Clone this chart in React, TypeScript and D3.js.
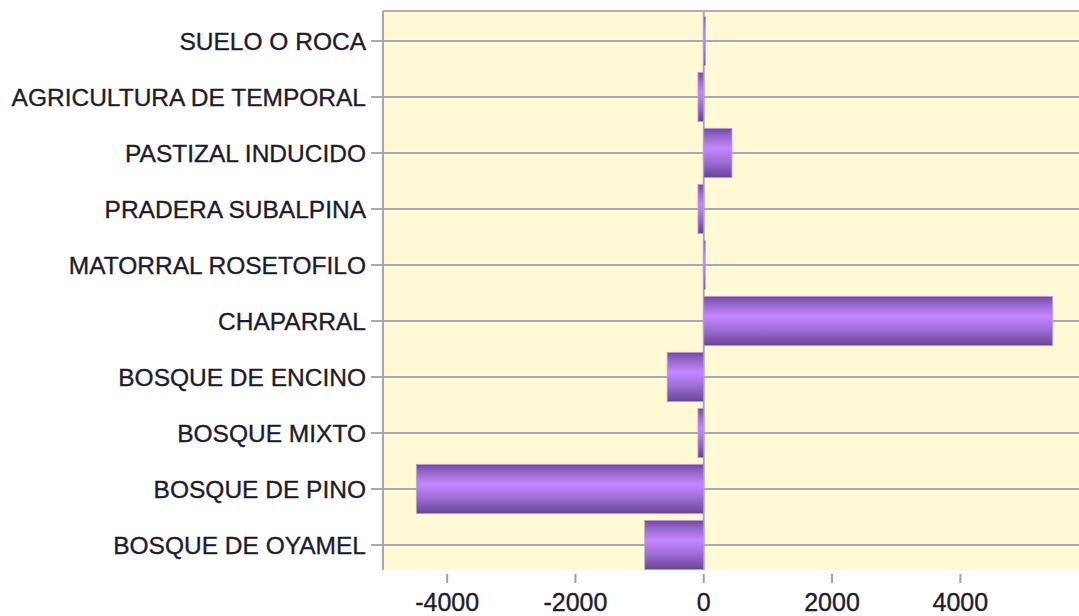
import React from 'react';
import * as d3 from 'd3';

const categories = [
  'SUELO O ROCA',
  'AGRICULTURA DE TEMPORAL',
  'PASTIZAL INDUCIDO',
  'PRADERA SUBALPINA',
  'MATORRAL ROSETOFILO',
  'CHAPARRAL',
  'BOSQUE DE ENCINO',
  'BOSQUE MIXTO',
  'BOSQUE DE PINO',
  'BOSQUE DE OYAMEL',
];
const values = [25, -90, 440, -90, 20, 5440, -570, -90, -4480, -920];
const xTicks = [-4000, -2000, 0, 2000, 4000];

const width = 1079;
const height = 616;
const plot = { left: 383, top: 11, bottom: 570, right: 1090 };

export default function App() {
  const x = d3.scaleLinear().domain([-5000, 5850]).range([383, 1079]);
  const y = d3
    .scaleBand<string>()
    .domain(categories)
    .range([13, 573])
    .paddingInner(0.12)
    .paddingOuter(0.06);

  const font = '"Liberation Sans", Arial, sans-serif';

  return (
    <svg
      width={width}
      height={height}
      style={{ position: 'absolute', left: 0, top: 0, background: '#fff' }}
    >
      <defs>
        <linearGradient id="barGrad" x1="0" y1="0" x2="0" y2="1">
          <stop offset="0%" stopColor="#74499f" />
          <stop offset="15%" stopColor="#9466cc" />
          <stop offset="40%" stopColor="#c487ff" />
          <stop offset="70%" stopColor="#9a6bd3" />
          <stop offset="100%" stopColor="#6a4396" />
        </linearGradient>
      </defs>

      {/* plot background */}
      <rect
        x={plot.left}
        y={plot.top}
        width={plot.right - plot.left}
        height={plot.bottom - plot.top}
        fill="#fff9d6"
      />

      {/* grid lines + y ticks */}
      {categories.map((c) => {
        const cy = y(c)! + y.bandwidth() / 2;
        return (
          <line
            key={c}
            x1={371}
            x2={plot.right}
            y1={cy}
            y2={cy}
            stroke="#a9a9a9"
            strokeWidth={2}
          />
        );
      })}

      {/* zero line */}
      <line x1={x(0)} x2={x(0)} y1={plot.top} y2={plot.bottom} stroke="#a9a9a9" strokeWidth={2} />

      {/* bars */}
      {categories.map((c, i) => {
        const v = values[i];
        const x0 = x(Math.min(0, v));
        const x1 = x(Math.max(0, v));
        return (
          <rect
            key={c}
            x={x0}
            y={y(c)!}
            width={Math.max(1.5, x1 - x0)}
            height={y.bandwidth()}
            fill="url(#barGrad)"
            stroke="#b8a6c8"
            strokeWidth={0.8}
          />
        );
      })}

      {/* frame */}
      <line x1={plot.left} x2={plot.right} y1={plot.top} y2={plot.top} stroke="#b0b0b0" strokeWidth={2} />
      <line x1={plot.left} x2={plot.left} y1={plot.top} y2={plot.bottom} stroke="#a9a9a9" strokeWidth={2} />

      {/* category labels */}
      {categories.map((c) => (
        <text
          key={c}
          x={366}
          y={y(c)! + y.bandwidth() / 2}
          dy="0.35em"
          textAnchor="end"
          fontFamily={font}
          fontSize={24.5}
          fill="#1c1c2c"
          stroke="#1c1c2c"
          strokeWidth={0.35}
        >
          {c}
        </text>
      ))}

      {/* x ticks */}
      {xTicks.map((t) => (
        <g key={t}>
          <line x1={x(t)} x2={x(t)} y1={574} y2={583} stroke="#a0a0a0" strokeWidth={2} />
          <text
            x={x(t)}
            y={611}
            textAnchor="middle"
            fontFamily={font}
            fontSize={25}
            fill="#1c1c2c"
            stroke="#1c1c2c"
            strokeWidth={0.35}
          >
            {t}
          </text>
        </g>
      ))}
    </svg>
  );
}
